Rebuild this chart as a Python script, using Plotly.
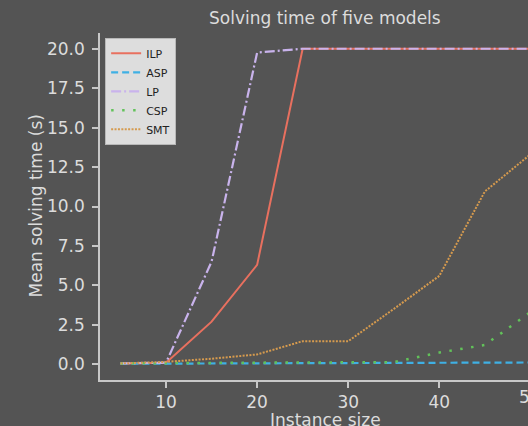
import plotly.graph_objects as go

sizes = [5, 10, 15, 20, 25, 30, 35, 40, 45, 50]
ilp = [0.05, 0.1, 2.7, 6.3, 20.0, 20.0, 20.0, 20.0, 20.0, 20.0]
asp = [0.03, 0.04, 0.05, 0.06, 0.07, 0.08, 0.09, 0.1, 0.1, 0.11]
lp = [0.05, 0.1, 6.5, 19.76, 20.0, 20.0, 20.0, 20.0, 20.0, 20.0]
csp = [0.05, 0.08, 0.09, 0.1, 0.11, 0.12, 0.13, 0.74, 1.22, 3.3]
smt = [0.05, 0.15, 0.35, 0.62, 1.46, 1.46, 3.5, 5.6, 10.95, 13.3]

y_ticks = [0, 2.5, 5, 7.5, 10, 12.5, 15, 17.5, 20]
x_ticks = [10, 20, 30, 40, 50]

BG = "#545454"
FG = "#dcdcdc"
FONT = "DejaVu Sans"

fig = go.Figure()
fig.add_trace(go.Scatter(x=sizes, y=ilp, name="ILP", mode="lines",
                         line=dict(color="#e8705f", width=2)))
fig.add_trace(go.Scatter(x=sizes, y=asp, name="ASP", mode="lines",
                         line=dict(color="#3fb0e4", width=2.2, dash="7px,4px")))
fig.add_trace(go.Scatter(x=sizes, y=lp, name="LP", mode="lines",
                         line=dict(color="#c9b3ec", width=2.2, dash="10px,3px,2px,3px")))
fig.add_trace(go.Scatter(x=sizes, y=csp, name="CSP", mode="lines",
                         line=dict(color="#62c25a", width=2.5, dash="2.5px,8.5px")))
fig.add_trace(go.Scatter(x=sizes, y=smt, name="SMT", mode="lines",
                         line=dict(color="#d59a4e", width=2, dash="2px,1.4px")))

xr = [2.75, 49.74]
yr = [-1, 21]

axis_common = dict(
    showgrid=False, zeroline=False, showline=True, linecolor="#c8c8c8", linewidth=1.5,
    ticks="outside", ticklen=6, tickwidth=1.5, tickcolor="#c8c8c8",
    tickfont=dict(family=FONT, size=17, color=FG),
)

fig.update_layout(
    width=528, height=426,
    margin=dict(l=100, r=0, t=33, b=46),
    paper_bgcolor=BG, plot_bgcolor=BG,
    font=dict(family=FONT, color=FG),
    showlegend=True,
    legend=dict(x=0.012, y=0.986, xanchor="left", yanchor="top",
                bgcolor="#dddddd", bordercolor="#b8b8b8", borderwidth=1,
                font=dict(family=FONT, size=11, color="#222222"),
                tracegroupgap=0, itemwidth=30),
    xaxis=dict(range=xr, tickvals=x_ticks, **axis_common),
    yaxis=dict(range=yr, tickvals=y_ticks, tickformat=".1f", ticklabelstandoff=4, **axis_common),
)

# the axes of the original extend past the right edge of the picture; keep titles centred on the full axis
full_right = 50 + 0.05 * (50 - 5)
full_left = 5 - 0.05 * (50 - 5)
centre_paper = ((full_left + full_right) / 2 - xr[0]) / (xr[1] - xr[0])

fig.add_annotation(text="Solving time of five models", xref="paper", yref="paper",
                   x=centre_paper, y=1, yshift=15, showarrow=False, yanchor="middle",
                   font=dict(family=FONT, size=17, color=FG))
fig.add_annotation(text="Instance size", xref="paper", yref="paper",
                   x=centre_paper, y=0, yshift=-40, showarrow=False, yanchor="middle",
                   font=dict(family=FONT, size=17, color=FG))
fig.add_annotation(text="Mean solving time (s)", xref="paper", yref="paper",
                   x=0, y=0.5, xshift=-65, textangle=-90, showarrow=False, xanchor="center",
                   font=dict(family=FONT, size=17, color=FG))
# tick label at 50 lies just beyond the picture edge and is clipped there
fig.add_annotation(text=str(x_ticks[-1]), xref="paper", yref="paper",
                   x=(x_ticks[-1] - xr[0]) / (xr[1] - xr[0]), y=0, yshift=-17,
                   showarrow=False, xanchor="center", yanchor="middle",
                   font=dict(family=FONT, size=17, color=FG))

fig.write_html(
    "out.html",
    config={"displayModeBar": False},
    post_script="document.body.style.margin='0';document.body.style.overflow='hidden';"
                "document.body.style.background='" + BG + "';",
)
